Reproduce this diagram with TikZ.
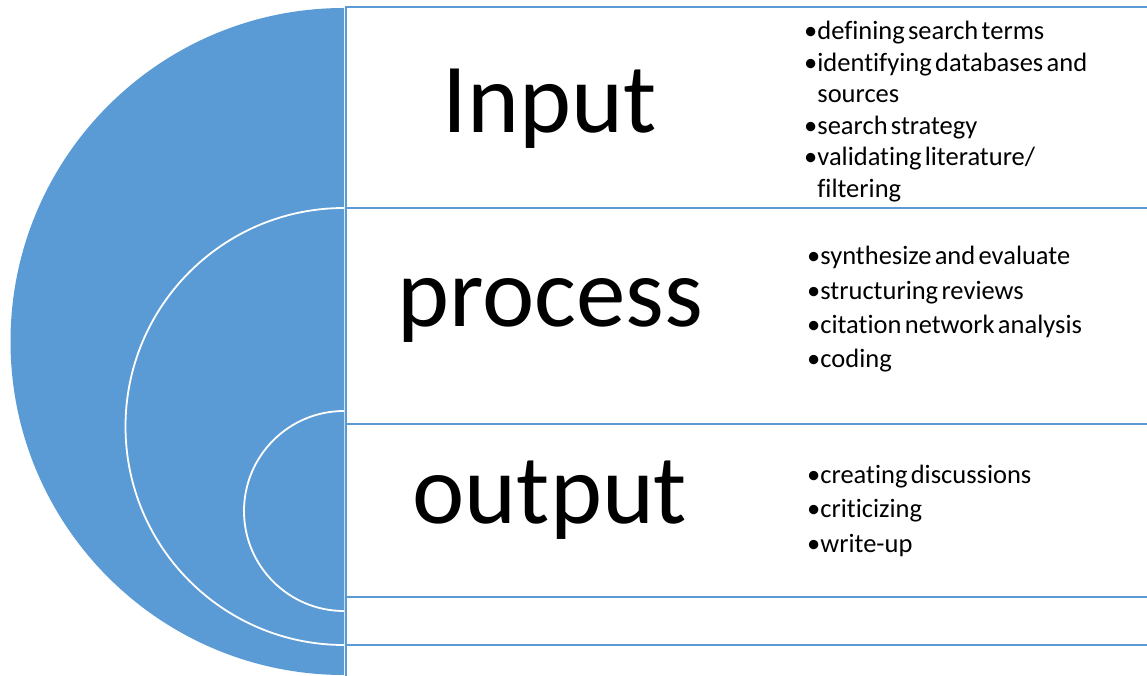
\documentclass[tikz,border=0pt]{standalone}
\usepackage{fontspec}
\setmainfont{Carlito}[Ligatures=NoCommon,WordSpace=1.25]
\usetikzlibrary{calc}
\definecolor{blue}{RGB}{91,155,213}
\newlength{\bulletwd}
\newcommand{\listfont}[1]{\fontsize{26.5}{#1}\selectfont\settowidth{\bulletwd}{\textbullet}}
\newcommand{\bitem}[1]{\noindent\hangindent=\bulletwd\hangafter=1\textbullet#1\par}

\begin{document}
\begin{tikzpicture}[x=1pt,y=1pt,
  ring/.style={fill=blue},
  rim/.style={draw=white,line width=1.8pt},
  boxline/.style={draw=blue,line width=2pt},
  stage/.style={inner sep=0pt,anchor=base,font=\fontsize{99}{110}\selectfont},
  steps/.style={inner sep=0pt,anchor=base west,text width=330pt,align=left}]

\useasboundingbox (0,0) rectangle (1147,675);
\clip (0,0) rectangle (1147,675);

% nested half discs
\coordinate (c1) at (344,333.5);
\coordinate (c2) at (344,248.5);
\coordinate (c3) at (344,164);
\fill[ring] ($(c1)+(0,-333.5)$) arc[start angle=270,end angle=90,radius=333.5pt] -- cycle;
\fill[ring] ($(c2)+(0,-218.5)$) arc[start angle=270,end angle=90,radius=218.5pt] -- cycle;
\draw[rim] ($(c2)+(0,-218.5)$) arc[start angle=270,end angle=90,radius=218.5pt];
\fill[ring] ($(c3)+(0,-100)$) arc[start angle=270,end angle=90,radius=100pt] -- cycle;
\draw[rim] ($(c3)+(0,-100)$) arc[start angle=270,end angle=90,radius=100pt];

% text boxes
\draw[boxline] (345.5,668) rectangle (1150,467);
\draw[boxline] (345.5,467) rectangle (1150,251);
\draw[boxline] (345.5,251) rectangle (1150,78);
\draw[boxline] (345.5,78) rectangle (1150,30);
\draw[boxline] (345.5,30) rectangle (1150,-5);

% stage labels
\node[stage] (input) at (550,542) {Input};
\node[stage] (process) at (550,348) {process};
\node[stage] (output) at (550,152) {output};

% bullet lists
\node[steps] (inputlist) at (804,635) {\listfont{31.5}%
  \bitem{defining search terms}%
  \bitem{identifying databases and\newline sources}%
  \bitem{search strategy}%
  \bitem{validating literature/\newline filtering}};
\node[steps] (processlist) at (807,410) {\listfont{34.3}%
  \bitem{synthesize and evaluate}%
  \bitem{structuring reviews}%
  \bitem{citation network analysis}%
  \bitem{coding}};
\node[steps] (outputlist) at (807,192) {\listfont{34.5}%
  \bitem{creating discussions}%
  \bitem{criticizing}%
  \bitem{write-up}};
\end{tikzpicture}
\end{document}
